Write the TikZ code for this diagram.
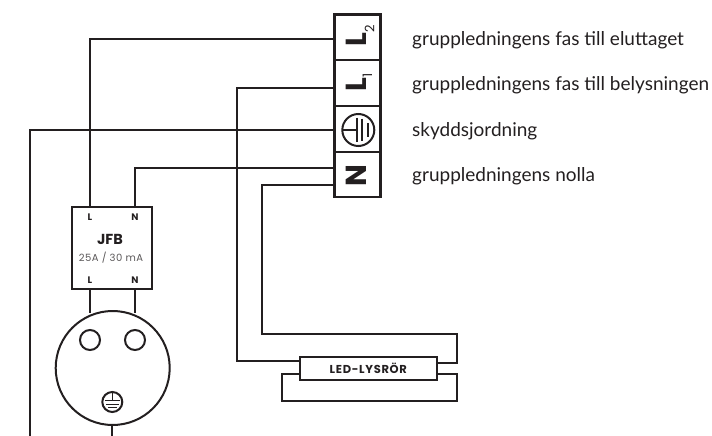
\documentclass[tikz,border=0pt]{standalone}
\usepackage{fontspec}
\setmainfont{Lato}
\newfontfamily\boxfont{Poppins}
\usetikzlibrary{positioning}
\definecolor{ink}{HTML}{231F20}
\tikzset{
  wire/.style = {draw=ink, line width=2pt, line join=miter},
  cell/.style = {draw=ink, line width=2.2pt, minimum width=46pt, minimum height=45.7pt, inner sep=0pt, outer sep=0pt},
  hole/.style = {draw=ink, line width=2pt, circle, inner sep=0pt, outer sep=0pt},
  caption/.style = {anchor=base west, inner sep=0pt, text=ink, font=\fontsize{19}{21}\selectfont},
  term/.style = {text=ink, rotate=90, inner sep=0pt, font=\fontsize{29}{29}\boxfont\bfseries},
  sub/.style = {text=ink, rotate=90, inner sep=0pt, font=\fontsize{13}{13}\boxfont},
  pin/.style = {text=ink, font=\fontsize{9.5}{10}\boxfont\bfseries, inner sep=0pt},
}
\begin{document}
\begin{tikzpicture}[x=1pt, y=-1pt]
\useasboundingbox (0,0) rectangle (712,436);
% terminal block
\node[cell] (l2) at (357.5,37.4) {};
\node[cell, below=0pt of l2] (l1) {};
\node[cell, below=0pt of l1] (pe) {};
\node[cell, below=0pt of pe] (n) {};
\node[term] (tl2) at (356.7,39.5) {L};
\node[sub] (t2) at (369.5,29) {2};
\node[term] (tl1) at (356.7,85) {L};
\node[sub] (t1) at (367.5,75) {1};
\node[term] (tn) at (356.7,176) {N};
% earth in the block
\node[hole, minimum size=32pt] (pering) at (358.3,130) {};
\draw[ink, line width=1.7pt] (pering.west) -- (356.7,130);
\draw[ink, line width=1.7pt] (356.7,117.7) -- (356.7,141.7);
\draw[ink, line width=1.7pt] (362.3,118.5) -- (362.3,141);
\draw[ink, line width=1.7pt] (367.7,123) -- (367.7,137);
% captions
\node[caption] (c2) at (412,46) {gruppledningens fas till eluttaget};
\node[caption] (c1) at (412,90.7) {gruppledningens fas till belysningen};
\node[caption] (c0) at (412,136) {skyddsjordning};
\node[caption] (cn) at (412,181) {gruppledningens nolla};
% JFB
\node[draw=ink, line width=2.2pt, minimum width=80pt, minimum height=82pt, inner sep=0pt, outer sep=0pt] (jfb) at (112,248) {};
\node[pin] (jl) at (90,216.7) {L};
\node[pin] (jn) at (135,216.7) {N};
\node[pin] (jl2) at (90,280) {L};
\node[pin] (jn2) at (135,280) {N};
\node[text=ink, inner sep=0pt, font=\fontsize{14.5}{15}\boxfont\bfseries] (jname) at (110,239) {JFB};
\node[text=ink!75, inner sep=0pt, font=\fontsize{10}{12}\boxfont] (jrate) at (111,258) {\addfontfeature{LetterSpace=5}25A / 30 mA};
% socket
\node[hole, minimum size=114pt] (socket) at (112.7,368) {};
\node[hole, minimum size=20pt] (h1) at (90,340) {};
\node[hole, minimum size=20pt] (h2) at (135,340) {};
\node[hole, minimum size=20pt] (sg) at (112.3,402) {};
\draw[ink, line width=1.2pt] (sg.north) -- (112.3,400.7);
\draw[ink, line width=1.2pt] (105,400.7) -- (120,400.7);
\draw[ink, line width=1.2pt] (106,404.3) -- (119,404.3);
\draw[ink, line width=1.2pt] (108,407.7) -- (116.7,407.7);
% lamp
\node[draw=ink, line width=2.2pt, minimum width=136.7pt, minimum height=23pt, inner sep=0pt, outer sep=0pt, text=ink, font=\fontsize{11.5}{13}\boxfont\bfseries] (led) at (368.3,368.5) {\addfontfeature{LetterSpace=6}LED-LYSRÖR};
% wires
\draw[wire] (l2.west |- 0,39.5) -- (89.5,39.5) -- (jfb.north -| 89.5,0);
\draw[wire] (l1.west |- 0,88) -- (237,88) -- (237,361) -- (led.west |- 0,361);
\draw[wire] (pe.west |- 0,130) -- (29.5,130) -- (29.5,436);
\draw[wire] (n.west |- 0,168) -- (135,168) -- (135,207);
\draw[wire] (n.west |- 0,185) -- (262,185) -- (262,334) -- (457,334) -- (457,362.5) -- (led.east |- 0,362.5);
\draw[wire] (led.west |- 0,374) -- (282,374) -- (282,401) -- (457,401) -- (457,374) -- (led.east |- 0,374);
\draw[wire] (89.5,289) -- (89.5,313);
\draw[wire] (135,289) -- (135,313);
\draw[wire] (socket.south -| sg.south) -- (sg.south |- 0,436);
\end{tikzpicture}
\end{document}
